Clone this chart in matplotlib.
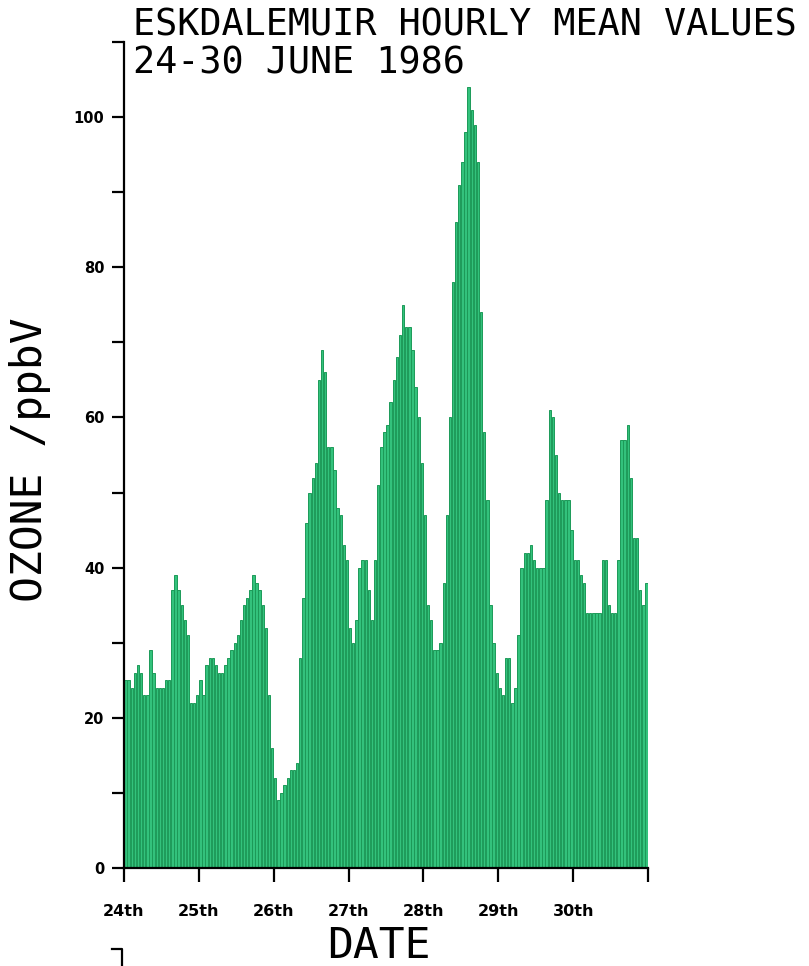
import numpy as np
import matplotlib
matplotlib.use("Agg")
import matplotlib.pyplot as plt
from matplotlib.lines import Line2D

# hourly ozone (ppbV), 24-30 June 1986, 24 values per day
day24 = [25, 25, 24, 26, 27, 26, 23, 23, 29, 26, 24, 24, 24, 25, 25, 37, 39, 37, 35, 33, 31, 22, 22, 23]
day25 = [25, 23, 27, 28, 28, 27, 26, 26, 27, 28, 29, 30, 31, 33, 35, 36, 37, 39, 38, 37, 35, 32, 23, 16]
day26 = [12, 9, 10, 11, 12, 13, 13, 14, 28, 36, 46, 50, 52, 54, 65, 69, 66, 56, 56, 53, 48, 47, 43, 41]
day27 = [32, 30, 33, 40, 41, 41, 37, 33, 41, 51, 56, 58, 59, 62, 65, 68, 71, 75, 72, 72, 69, 64, 60, 54]
day28 = [47, 35, 33, 29, 29, 30, 38, 47, 60, 78, 86, 91, 94, 98, 104, 101, 99, 94, 74, 58, 49, 35, 30, 26]
day29 = [24, 23, 28, 28, 22, 24, 31, 40, 42, 42, 43, 41, 40, 40, 40, 49, 61, 60, 55, 50, 49, 49, 49, 45]
day30 = [41, 41, 39, 38, 34, 34, 34, 34, 34, 41, 41, 35, 34, 34, 41, 57, 57, 59, 52, 44, 44, 37, 35, 38]

day_labels = ["24th", "25th", "26th", "27th", "28th", "29th", "30th"]
y_labels = [0, 20, 40, 60, 80, 100]

ozone = np.array(day24 + day25 + day26 + day27 + day28 + day29 + day30)
hours = np.arange(len(ozone))

W, H = 809, 966
fig = plt.figure(figsize=(W / 100, H / 100), dpi=100)
ax = fig.add_axes([124 / W, 98 / H, 524 / W, 826 / H])

ax.bar(hours + 0.5, ozone, width=0.76, color="#33c27c", edgecolor="#1c9a58",
       linewidth=0.7, align="center")

ax.set_xlim(0, len(ozone))
ax.set_ylim(0, 110)

ax.spines["top"].set_visible(False)
ax.spines["right"].set_visible(False)
for s in ["left", "bottom"]:
    ax.spines[s].set_linewidth(1.6)

ax.set_xticks(np.arange(0, len(ozone) + 1, 24))
ax.set_xticklabels(day_labels + [""], fontsize=11.5, fontweight="bold")
ax.set_yticks(np.arange(0, 111, 10))
ax.set_yticklabels([str(v) if v in y_labels else "" for v in range(0, 111, 10)],
                   fontsize=10.5, fontweight="bold")
ax.tick_params(axis="x", direction="out", length=10, width=1.6, pad=16)
ax.tick_params(axis="y", direction="out", length=9, width=1.6, pad=5)

fig.text(30 / W, 1 - 460 / H, "OZONE /ppbV", rotation=90, fontsize=31,
         family="DejaVu Sans Mono", ha="center", va="center")
fig.text(379 / W, 1 - 946 / H, "DATE", fontsize=31,
         family="DejaVu Sans Mono", ha="center", va="center")

fig.text(133 / W, 1 - 35 / H, "ESKDALEMUIR HOURLY MEAN VALUES",
         fontsize=26.5, family="DejaVu Sans Mono", ha="left", va="baseline")
fig.text(133 / W, 1 - 74 / H, "24-30 JUNE 1986",
         fontsize=26.5, family="DejaVu Sans Mono", ha="left", va="baseline")

# small corner mark at lower left
fig.add_artist(Line2D([112 / W, 122 / W, 122 / W],
                      [1 - 949 / H, 1 - 949 / H, 0], color="black", lw=1.6))

fig.savefig("out.png", dpi=100, facecolor="white")
